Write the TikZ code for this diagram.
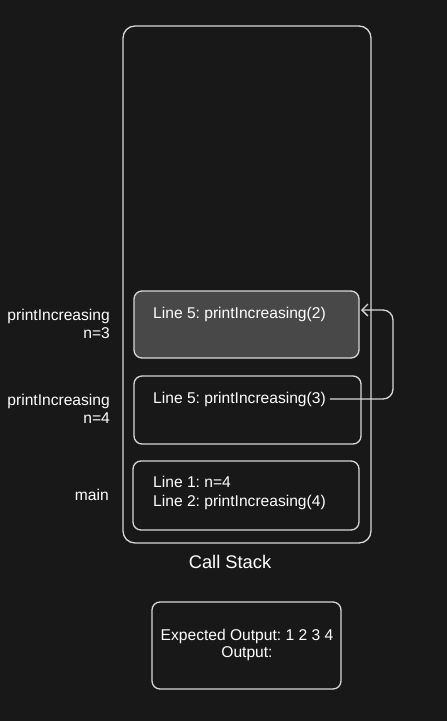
\documentclass[tikz,border=0pt]{standalone}
\usepackage{fontspec}
\setmainfont{Liberation Sans}
\frenchspacing
\usetikzlibrary{arrows.meta}
\definecolor{bg}{HTML}{181818}
\definecolor{ln}{HTML}{D8D8D8}
\definecolor{frame}{HTML}{484848}
\begin{document}
\begin{tikzpicture}[x=1pt,y=-1pt,
  box/.style={draw=ln,line width=1.3pt,rounded corners=8pt},
  txt/.style={text=white,font=\fontsize{15.6}{17.5}\selectfont,inner sep=0pt},
  lbl/.style={text=white,font=\fontsize{15.6}{17.5}\selectfont,inner sep=0pt,align=right,anchor=east}]
\fill[bg] (0,0) rectangle (447,721);
\useasboundingbox (0,0) rectangle (447,721);
\draw[box,rounded corners=12pt] (123,26) rectangle (371,543);
\draw[box,fill=frame] (134,291) rectangle (359,358);
\coordinate (f3e) at (361,310);
\draw[box] (134,376) rectangle (361,444);
\draw[box] (133,461) rectangle (359,530);
\draw[box] (152,602) rectangle (341,689);
\node[txt,anchor=west] (t3) at (153,314) {Line 5: printIncreasing(2)};
\node[txt,anchor=west] (t4) at (153,399) {Line 5: printIncreasing(3)};
\node[txt,anchor=west,align=left,font=\fontsize{15.6}{18.5}\selectfont] (tm) at (153,493) {Line 1: n=4\\Line 2: printIncreasing(4)};
\node[lbl] (l3) at (110,324) {printIncreasing\\n=3};
\node[lbl] (l4) at (110,409) {printIncreasing\\n=4};
\node[lbl] (lm) at (109,495) {main};
\node[txt,font=\fontsize{18.3}{21}\selectfont] (cs) at (230,562) {Call Stack};
\node[txt,align=center] (out) at (247,645) {Expected Output: 1 2 3 4\\Output:};
\draw[ln,line width=1.3pt,rounded corners=10pt,-{Straight Barb[length=6pt,width=12pt]}]
  ([xshift=4pt]t4.east) -- (393,399) -- (393,310) -- (f3e);
\end{tikzpicture}
\end{document}
